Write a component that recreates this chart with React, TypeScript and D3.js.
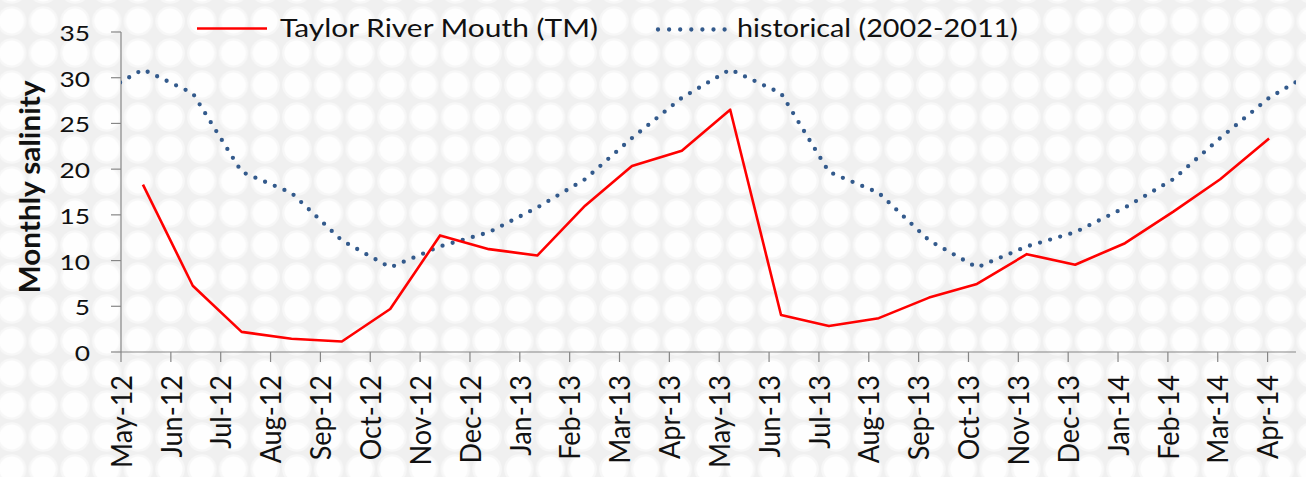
import React from "react";
import * as d3 from "d3";

// month categories on the x axis (one tick per month start)
const months = [
  "May-12", "Jun-12", "Jul-12", "Aug-12", "Sep-12", "Oct-12", "Nov-12", "Dec-12",
  "Jan-13", "Feb-13", "Mar-13", "Apr-13", "May-13", "Jun-13", "Jul-13", "Aug-13",
  "Sep-13", "Oct-13", "Nov-13", "Dec-13", "Jan-14", "Feb-14", "Mar-14", "Apr-14",
];
const yTicks = [0, 5, 10, 15, 20, 25, 30, 35];

// sample times in months since May-12
const tmPos = [
  0.44, 1.44, 2.42, 3.42, 4.43, 5.4, 6.4, 7.38, 8.35, 9.31, 10.25, 11.25,
  12.22, 13.24, 14.2, 15.2, 16.21, 17.17, 18.17, 19.14, 20.14, 21.11, 22.05, 23.03,
];
const tmSalinity = [
  18.3, 7.25, 2.2, 1.45, 1.15, 4.7, 12.75, 11.25, 10.55, 16.0, 20.35, 22.0,
  26.5, 4.05, 2.85, 3.7, 5.95, 7.45, 10.7, 9.55, 11.9, 15.35, 18.9, 23.35,
];

// historical monthly means, with one point either side (clipped)
const histPos = [
  -0.57, 0.44, 1.44, 2.42, 3.42, 4.43, 5.4, 6.4, 7.38, 8.35, 9.31, 10.25, 11.25,
  12.22, 13.24, 14.2, 15.2, 16.21, 17.17, 18.17, 19.14, 20.14, 21.11, 22.05, 23.03, 24.0,
];
const histSalinity = [
  27.8, 30.9, 28.3, 19.7, 17.4, 12.2, 9.25, 11.55, 13.1, 15.8, 18.9, 23.4, 27.8,
  30.9, 28.3, 19.7, 17.4, 12.2, 9.25, 11.55, 13.1, 15.8, 18.9, 23.4, 27.8, 30.9,
];

const W = 1306;
const H = 477;
const FONT = "Lato, 'Open Sans', sans-serif";
const AXIS = "#868686";
const RED = "#ff0000";
const BLUE = "#335a8c";

export default function App() {
  const x = d3.scaleLinear().domain([0, 23.57]).range([121, 1296]);
  const y = d3.scaleLinear().domain([0, 35]).range([352, 32]);

  const line = d3
    .line<number>()
    .x((_, i) => x(tmPos[i]))
    .y((d) => y(d));
  const histLine = d3
    .line<number>()
    .x((_, i) => x(histPos[i]))
    .y((d) => y(d));

  const [x0, x1] = x.range();
  const [yb, yt] = y.range();

  return (
    <svg
      width={W}
      height={H}
      style={{ position: "absolute", left: 0, top: 0, display: "block" }}
      fontFamily={FONT}
    >
      <defs>
        <pattern id="bg" width={31.7} height={32} patternUnits="userSpaceOnUse" x={-4.25} y={5}>
          <rect width={31.7} height={32} fill="#f0f0f0" />
          <circle cx={15.85} cy={16} r={14.8} fill="#f7f7f7" />
          <circle cx={15.85} cy={16} r={12.5} fill="#fefefe" />
        </pattern>
        <clipPath id="plot">
          <rect x={x0} y={0} width={x1 - x0} height={yb} />
        </clipPath>
      </defs>
      <rect width={W} height={H} fill="url(#bg)" />

      {/* y axis */}
      <line x1={x0} x2={x0} y1={yb} y2={yt} stroke={AXIS} strokeWidth={1.2} />
      {yTicks.map((t) => (
        <g key={t}>
          <line x1={x0 - 10} x2={x0} y1={y(t)} y2={y(t)} stroke={AXIS} strokeWidth={1.2} />
          <text
            x={90}
            y={y(t) + 9}
            textAnchor="end"
            fontSize={22}
            fill="#111"
            textLength={15.3 * String(t).length}
            lengthAdjust="spacingAndGlyphs"
          >
            {t}
          </text>
        </g>
      ))}

      {/* x axis */}
      <line x1={x0} x2={x1} y1={yb} y2={yb} stroke={AXIS} strokeWidth={1.2} />
      {months.map((m, i) => (
        <g key={m}>
          <line x1={x(i)} x2={x(i)} y1={yb} y2={yb + 10} stroke={AXIS} strokeWidth={1.2} />
          <text
            transform={`translate(${x(i)},375) scale(1.1,1) rotate(-90)`}
            textAnchor="end"
            dy="0.36em"
            fontSize={27}
            fill="#111"
          >
            {m}
          </text>
        </g>
      ))}

      {/* y title */}
      <text
        transform="translate(30,187) scale(1.12,1) rotate(-90)"
        textAnchor="middle"
        dy="0.36em"
        fontSize={25}
        fontWeight="bold"
        fill="#111"
        textLength={213}
        lengthAdjust="spacingAndGlyphs"
      >
        Monthly salinity
      </text>

      {/* series */}
      <g clipPath="url(#plot)">
        <path
          d={histLine(histSalinity) ?? ""}
          fill="none"
          stroke={BLUE}
          strokeWidth={4.3}
          strokeLinecap="round"
          strokeDasharray="0 10.5"
        />
      </g>
      <path
        d={line(tmSalinity) ?? ""}
        fill="none"
        stroke={RED}
        strokeWidth={2.6}
        strokeLinejoin="round"
      />

      {/* legend */}
      <line x1={197} x2={267} y1={28.5} y2={28.5} stroke={RED} strokeWidth={2.6} />
      <text
        x={280}
        y={37.3}
        fontSize={25}
        fill="#111"
        textLength={318}
        lengthAdjust="spacingAndGlyphs"
      >
        Taylor River Mouth (TM)
      </text>
      <line
        x1={658}
        x2={726}
        y1={29.5}
        y2={29.5}
        stroke={BLUE}
        strokeWidth={4.3}
        strokeLinecap="round"
        strokeDasharray="0 11.1"
      />
      <text
        x={737}
        y={37.3}
        fontSize={25}
        fill="#111"
        textLength={281}
        lengthAdjust="spacingAndGlyphs"
      >
        historical (2002-2011)
      </text>
    </svg>
  );
}
